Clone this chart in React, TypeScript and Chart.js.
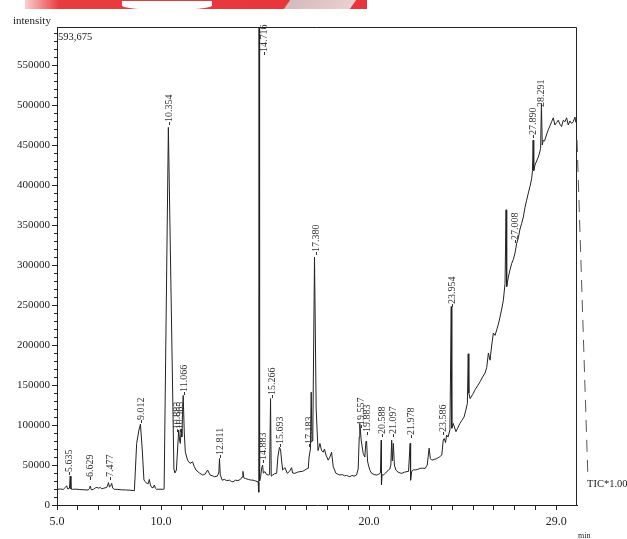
import React, { useEffect, useRef } from 'react';
import { Chart, registerables } from 'chart.js';

Chart.register(...registerables);

// Retention time (min) of each trace point
const traceTimes = [
  5.0, 5.15, 5.3, 5.4, 5.46, 5.52, 5.6, 5.635, 5.67, 5.75, 5.9, 6.1, 6.3, 6.5, 6.56, 6.6, 6.65, 6.75, 6.85, 6.92,
  7.0, 7.08, 7.15, 7.25, 7.39, 7.44, 7.477, 7.52, 7.58, 7.63, 7.68, 7.76, 7.9, 8.11, 8.3, 8.5, 8.72, 8.83, 8.94, 9.012,
  9.1, 9.18, 9.25, 9.31, 9.38, 9.44, 9.49, 9.55, 9.62, 9.68, 9.73, 9.79, 9.95, 10.11, 10.15, 10.354, 10.62, 10.67, 10.74, 10.85,
  10.9, 10.93, 10.97, 11.0, 11.066, 11.12, 11.17, 11.28, 11.4, 11.52, 11.6, 11.68, 11.85, 12.0, 12.12, 12.24, 12.36, 12.47, 12.57, 12.7,
  12.78, 12.811, 12.85, 12.94, 13.05, 13.15, 13.3, 13.38, 13.46, 13.58, 13.7, 13.82, 13.9, 13.94, 13.98, 14.07, 14.2, 14.3, 14.43, 14.55,
  14.67, 14.7, 14.716, 14.74, 14.79, 14.84, 14.883, 14.92, 15.0, 15.08, 15.16, 15.22, 15.266, 15.3, 15.37, 15.46, 15.56, 15.62, 15.693, 15.75,
  15.8, 15.85, 15.9, 15.96, 16.07, 16.18, 16.28, 16.33, 16.44, 16.56, 16.68, 16.8, 16.92, 17.0, 17.08, 17.12, 17.183, 17.22, 17.26, 17.3,
  17.38, 17.46, 17.55, 17.64, 17.72, 17.8, 17.86, 17.93, 18.04, 18.12, 18.2, 18.28, 18.41, 18.5, 18.6, 18.72, 18.82, 18.92, 19.0, 19.08,
  19.18, 19.28, 19.4, 19.48, 19.53, 19.557, 19.63, 19.72, 19.8, 19.85, 19.883, 19.93, 19.97, 20.05, 20.13, 20.25, 20.37, 20.47, 20.55, 20.588,
  20.6, 20.63, 20.69, 20.8, 20.93, 21.0, 21.05, 21.09, 21.12, 21.17, 21.22, 21.29, 21.4, 21.5, 21.58, 21.7, 21.82, 21.9, 21.978, 22.0,
  22.05, 22.15, 22.22, 22.34, 22.46, 22.58, 22.7, 22.8, 22.89, 22.95, 23.02, 23.14, 23.26, 23.38, 23.5, 23.57, 23.62, 23.68, 23.73, 23.8,
  23.89, 23.954, 23.98, 24.05, 24.18, 24.28, 24.37, 24.47, 24.57, 24.65, 24.73, 24.77, 24.8, 24.86, 24.98, 25.1, 25.22, 25.34, 25.46, 25.58,
  25.66, 25.74, 25.82, 25.9, 25.98, 26.06, 26.14, 26.22, 26.3, 26.38, 26.46, 26.54, 26.59, 26.62, 26.7, 26.78, 26.86, 26.94, 27.02, 27.1,
  27.18, 27.26, 27.34, 27.42, 27.5, 27.58, 27.66, 27.74, 27.82, 27.86, 27.89, 27.92, 27.98, 28.06, 28.14, 28.2, 28.25, 28.29, 28.33, 28.38,
  28.44, 28.5, 28.56, 28.62, 28.7, 28.78, 28.86, 28.94, 29.02, 29.1, 29.18, 29.26, 29.34, 29.42, 29.5, 29.58, 29.66, 29.74, 29.82, 29.9,
  29.95,
];

// Intensity of each trace point
const traceValues = [
  19600, 20000, 19500, 22000, 24000, 20000, 21000, 36000, 20000, 19600, 19800, 19300, 19000, 18750, 20500, 23750, 19000, 19500, 21500, 22000,
  21000, 22000, 20400, 21000, 22000, 25000, 28000, 22500, 23750, 27000, 21000, 19600, 19500, 19000, 18800, 18500, 17900, 77000, 93750, 101000,
  68750, 31250, 29000, 27000, 26500, 32000, 25000, 22000, 21500, 25000, 21000, 19600, 19800, 19600, 20000, 472000, 45000, 40000, 43750, 93750,
  80000, 77000, 95000, 85000, 137000, 90000, 66000, 56000, 52000, 54000, 48000, 43750, 40000, 37500, 38500, 43750, 37500, 36500, 35400, 36000,
  40000, 58000, 38000, 31000, 32000, 30500, 31000, 29500, 29000, 31000, 30500, 32000, 35000, 42000, 34000, 33000, 32000, 31250, 31000, 30000,
  29000, 16000, 600000, 30000, 35400, 46000, 50000, 40000, 41700, 38000, 37500, 38000, 133000, 36000, 37500, 39000, 39600, 60000, 72000, 68750,
  55000, 43750, 45000, 46700, 39600, 42000, 46700, 40000, 39600, 41000, 41700, 42000, 43750, 45000, 45800, 60000, 70000, 141000, 80000, 90000,
  310000, 120000, 68000, 77000, 68000, 66000, 70000, 62500, 56000, 60000, 66000, 47900, 39600, 38500, 37500, 38000, 36500, 37000, 36000, 35400,
  37000, 36000, 37500, 45000, 85000, 102000, 80000, 64600, 60000, 79000, 80000, 55000, 50000, 43000, 39600, 38000, 37500, 38500, 40000, 81000,
  25000, 38000, 37500, 40000, 43750, 45000, 50000, 81000, 55000, 77000, 50000, 43750, 41000, 40000, 39600, 41000, 41700, 42000, 77000, 31000,
  42000, 44000, 43750, 44500, 45800, 46000, 45800, 50000, 71000, 58000, 56000, 57000, 58000, 60000, 62500, 81250, 83000, 78000, 87500, 85000,
  93750, 248000, 96000, 102000, 91700, 97000, 102000, 106000, 110000, 118000, 127000, 189000, 140000, 133000, 138000, 144000, 149000, 154000, 160000, 165000,
  172000, 190000, 181000, 200000, 215000, 212000, 219000, 226000, 235000, 245000, 256000, 277000, 369000, 273000, 285000, 294000, 302000, 307000, 315000, 327000,
  334000, 345000, 352000, 360000, 372000, 381000, 390000, 398000, 408000, 418000, 456000, 418000, 425000, 430000, 435000, 440000, 446000, 502000, 450000, 456000,
  455000, 460000, 465000, 469000, 474000, 479000, 484000, 475000, 478000, 481000, 476000, 473000, 481000, 479000, 484000, 475000, 480000, 477000, 479000, 485000,
  478000,
];

// Peak annotations
const peakLabels = [
  '5.635', '6.629', '7.477', '9.012', '10.354', '10.883', '10.965', '11.066', '12.811', '14.716',
  '14.883', '15.266', '15.693', '17.183', '17.380', '19.557', '19.883', '20.588', '21.097', '21.978',
  '23.586', '23.954', '27.008', '27.890', '28.291',
];
const peakLabelTimes = [
  5.58, 6.59, 7.55, 9.04, 10.38, 10.77, 10.91, 11.1, 12.84, 14.95,
  14.9, 15.34, 15.72, 17.12, 17.45, 19.62, 19.9, 20.63, 21.15, 22.02,
  23.56, 23.99, 27.02, 27.88, 28.27,
];
const peakLabelValues = [
  37500, 31250, 31250, 102500, 475000, 91000, 91000, 137500, 58750, 562500,
  52500, 133750, 72500, 72500, 312500, 96250, 87500, 85000, 85000, 83750,
  87500, 247500, 327500, 458750, 493750,
];

// Axis
const xTickValues = [5, 10, 20, 29];
const xTickLabels = ['5.0', '10.0', '20.0', '29.0'];
const yTickValues = [0, 50000, 100000, 150000, 200000, 250000, 300000, 350000, 400000, 450000, 500000, 550000];
const yTickLabels = ['0', '50000', '100000', '150000', '200000', '250000', '300000', '350000', '400000', '450000', '500000', '550000'];
const xMin = 5;
const xMax = 30;
const yMax = 597500;
const yMinorStep = 10000;
const fullScaleText = '593,675';
const yTitle = 'intensity';
const xUnit = 'min';
const traceName = 'TIC*1.00';

const SERIF = '"Liberation Serif", "Times New Roman", serif';

const decorPlugin = {
  id: 'decor',
  afterDraw(chart: any) {
    const { ctx, chartArea: a, scales } = chart;
    const x = scales.x;
    const y = scales.y;
    ctx.save();
    ctx.strokeStyle = '#222';
    ctx.lineWidth = 1;
    // frame (top and right)
    ctx.beginPath();
    ctx.moveTo(a.left, a.top + 0.5);
    ctx.lineTo(a.right - 0.5, a.top + 0.5);
    ctx.lineTo(a.right - 0.5, a.bottom);
    ctx.stroke();
    // minor y ticks
    ctx.beginPath();
    for (let v = yMinorStep; v < yMax; v += yMinorStep) {
      if (yTickValues.indexOf(v) >= 0) continue;
      const py = Math.round(y.getPixelForValue(v)) + 0.5;
      ctx.moveTo(a.left - 3, py);
      ctx.lineTo(a.left, py);
    }
    ctx.stroke();

    // peak labels
    ctx.fillStyle = '#333';
    ctx.strokeStyle = '#333';
    ctx.font = `10px ${SERIF}`;
    ctx.textAlign = 'left';
    ctx.textBaseline = 'middle';
    for (let i = 0; i < peakLabels.length; i++) {
      const px = x.getPixelForValue(peakLabelTimes[i]);
      const py = y.getPixelForValue(peakLabelValues[i]);
      ctx.beginPath();
      ctx.moveTo(Math.round(px) + 0.5, py);
      ctx.lineTo(Math.round(px) + 0.5, py - 3);
      ctx.stroke();
      ctx.save();
      ctx.translate(px, py - 3);
      ctx.rotate(-Math.PI / 2);
      ctx.fillText(peakLabels[i], 0, 0);
      ctx.restore();
    }

    // texts
    ctx.fillStyle = '#222';
    ctx.textBaseline = 'alphabetic';
    ctx.font = `11px ${SERIF}`;
    ctx.fillText(yTitle, 13, 24);
    ctx.font = `10.5px ${SERIF}`;
    ctx.fillText(fullScaleText, a.left + 1, a.top + 13);
    ctx.fillText(traceName, 587, 487);
    ctx.font = `8px ${SERIF}`;
    ctx.fillText(xUnit, 578, 538);

    // dashed marker line
    ctx.strokeStyle = '#555';
    ctx.setLineDash([12, 8]);
    ctx.beginPath();
    ctx.moveTo(a.right, 140);
    ctx.lineTo(588, 480);
    ctx.stroke();
    ctx.restore();
  },
};

export default function App() {
  const ref = useRef<HTMLCanvasElement | null>(null);

  useEffect(() => {
    const canvas = ref.current;
    if (!canvas) return;
    const points = traceTimes.map((t, i) => ({ x: t, y: traceValues[i] }));
    const chart = new Chart(canvas, {
      type: 'line',
      data: {
        datasets: [
          {
            data: points,
            borderColor: '#222',
            borderWidth: 1,
            pointRadius: 0,
            tension: 0,
            fill: false,
          },
        ],
      },
      options: {
        animation: false,
        responsive: false,
        maintainAspectRatio: false,
        layout: { padding: { top: 27, right: 50, left: 0, bottom: 0 } },
        plugins: { legend: { display: false }, tooltip: { enabled: false } },
        scales: {
          x: {
            type: 'linear',
            min: xMin,
            max: xMax,
            afterFit: (s: any) => {
              s.height = 34;
            },
            ticks: {
              stepSize: 1,
              autoSkip: false,
              maxRotation: 0,
              padding: 5,
              color: '#222',
              font: { family: SERIF, size: 12 },
              callback: (v: any) => {
                const i = xTickValues.indexOf(Number(v));
                return i >= 0 ? xTickLabels[i] : '';
              },
            },
            grid: {
              drawOnChartArea: false,
              drawTicks: true,
              tickLength: 5,
              tickColor: (c: any) =>
                c.tick && Number.isInteger(c.tick.value) && c.tick.value < 29.5 ? '#222' : 'rgba(0,0,0,0)',
            },
            border: { display: true, color: '#222', width: 1 },
          },
          y: {
            type: 'linear',
            min: 0,
            max: yMax,
            afterFit: (s: any) => {
              s.width = 57;
            },
            afterBuildTicks: (s: any) => {
              s.ticks = yTickValues.map((v) => ({ value: v }));
            },
            ticks: {
              autoSkip: false,
              padding: 2,
              color: '#222',
              font: { family: SERIF, size: 11 },
              callback: (v: any) => {
                const i = yTickValues.indexOf(Number(v));
                return i >= 0 ? yTickLabels[i] : '';
              },
            },
            grid: {
              drawOnChartArea: false,
              drawTicks: true,
              tickLength: 5,
              tickColor: '#222',
            },
            border: { display: true, color: '#222', width: 1 },
          },
        },
      },
      plugins: [decorPlugin],
    });
    return () => chart.destroy();
  }, []);

  return (
    <div
      style={{
        position: 'fixed',
        left: 0,
        top: 0,
        width: 627,
        height: 539,
        background: '#fff',
        overflow: 'hidden',
      }}
    >
      <canvas ref={ref} width={627} height={539} style={{ position: 'absolute', left: 0, top: 0 }} />
      <div
        style={{
          position: 'absolute',
          left: 25,
          top: 0,
          width: 342,
          height: 9,
          background:
            'linear-gradient(to right, rgba(245,160,160,0.5), rgb(232,60,64) 10%, rgb(232,52,58) 100%)',
        }}
      />
      <div
        style={{
          position: 'absolute',
          left: 122,
          top: 1,
          width: 90,
          height: 9,
          background: '#fff',
          borderRadius: '0 0 50% 50%',
        }}
      />
      <div
        style={{
          position: 'absolute',
          left: 287,
          top: 0,
          width: 66,
          height: 9,
          background: 'linear-gradient(to right, rgba(210,200,200,0.9), rgba(235,225,225,0.9))',
          transform: 'skewX(-35deg)',
        }}
      />
    </div>
  );
}
